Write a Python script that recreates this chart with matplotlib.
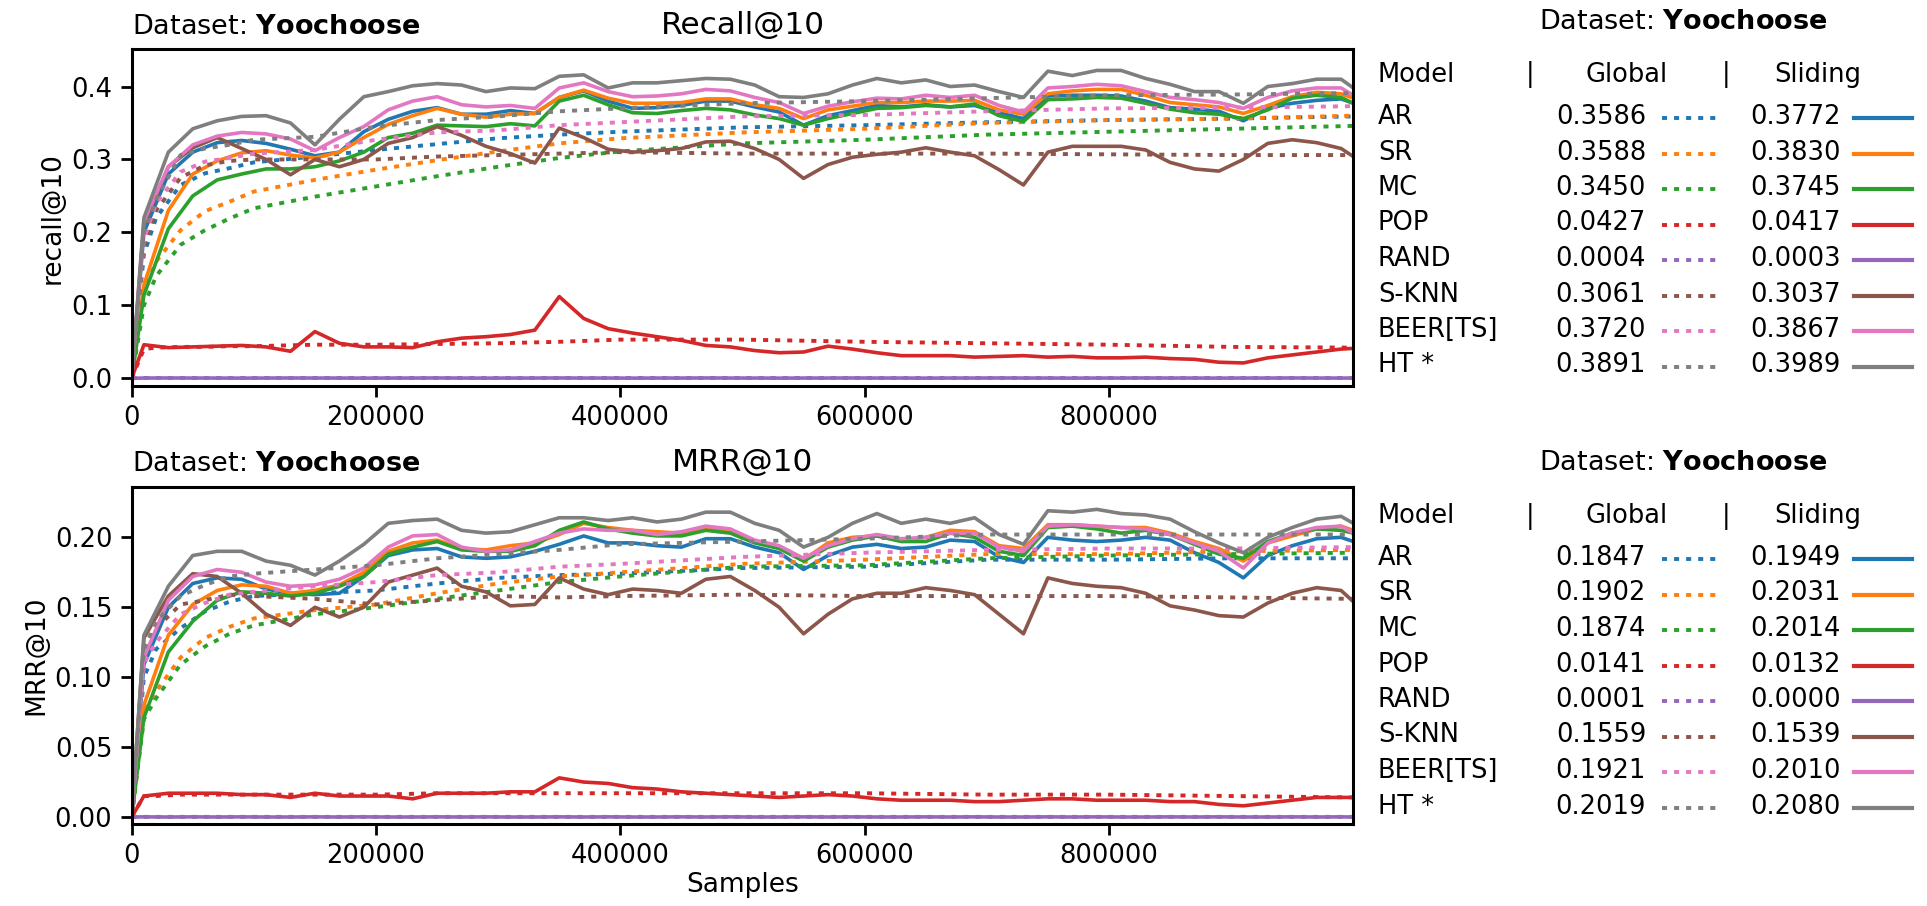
import matplotlib
matplotlib.use("Agg")
import matplotlib.pyplot as plt
from matplotlib.lines import Line2D

plt.rcParams['font.family'] = ['DejaVu Sans']
plt.rcParams['mathtext.fontset'] = 'dejavusans'

W, H = 1927, 906

MODELS = ["AR", "SR", "MC", "POP", "RAND", "S-KNN", "BEER[TS]", "HT *"]
COLORS = ["#1f77b4", "#ff7f0e", "#2ca02c", "#d62728", "#9467bd",
          "#8c564b", "#e377c2", "#7f7f7f"]

# sample positions of the sliding-window curves and of the global (cumulative) curves
X_SLIDE = [0] + list(range(10000, 1000000, 20000)) + [1000000]
X_GLOB = [0, 10000, 20000, 40000, 60000, 80000, 100000, 150000, 200000, 250000,
          300000, 350000, 400000, 500000, 600000, 700000, 800000, 900000, 1000000]

# ---------------- Recall@10, sliding window ----------------
rec_ar = [0.0, .200, .280, .310, .323, .326, .322, .314, .305, .310, .338,
          .355, .366, .371, .362, .362, .367, .363, .385, .394, .380,
          .370, .371, .374, .380, .380, .372, .365, .347, .360, .367,
          .374, .372, .375, .372, .374, .364, .356, .387, .388, .388,
          .387, .380, .371, .369, .366, .353, .370, .377, .381, .383,
          .377]
rec_sr = [0.0, .128, .230, .280, .298, .309, .312, .306, .302, .310, .330,
          .348, .360, .370, .362, .358, .362, .363, .385, .395, .384,
          .377, .377, .378, .383, .383, .375, .370, .356, .368, .373,
          .378, .378, .380, .380, .381, .368, .362, .390, .394, .396,
          .396, .388, .378, .375, .372, .363, .374, .386, .392, .390,
          .384]
rec_mc = [0.0, .114, .205, .250, .272, .280, .287, .287, .290, .298, .310,
          .330, .336, .347, .346, .345, .349, .346, .380, .388, .375,
          .364, .363, .367, .370, .368, .361, .356, .347, .356, .363,
          .370, .371, .374, .372, .376, .360, .352, .382, .383, .385,
          .384, .377, .369, .364, .362, .356, .368, .384, .388, .385,
          .377]
rec_pop = [0.0, .046, .042, .043, .044, .045, .043, .037, .064, .048, .043,
           .043, .042, .050, .055, .057, .060, .066, .112, .082, .068,
           .062, .057, .052, .045, .043, .038, .035, .036, .044, .040,
           .035, .031, .031, .031, .029, .030, .031, .029, .030, .028,
           .028, .029, .027, .026, .022, .021, .028, .032, .036, .040,
           .041]
rec_rand = [0.0, .0003, .0004, .0003, .0003, .0002, .0003, .0004, .0003, .0003, .0002,
            .0003, .0003, .0004, .0003, .0002, .0003, .0003, .0004, .0003, .0003,
            .0002, .0003, .0003, .0004, .0003, .0003, .0002, .0003, .0003, .0004,
            .0003, .0003, .0002, .0003, .0003, .0004, .0003, .0003, .0002, .0003,
            .0003, .0004, .0003, .0003, .0002, .0003, .0003, .0004, .0003, .0003,
            .0003]
rec_sknn = [0.0, .210, .290, .316, .330, .315, .300, .279, .300, .290, .300,
            .322, .330, .345, .333, .318, .308, .295, .343, .330, .314,
            .310, .312, .315, .324, .325, .315, .300, .274, .293, .303,
            .307, .310, .316, .310, .305, .286, .265, .310, .318, .318,
            .318, .313, .296, .287, .284, .300, .322, .327, .323, .315,
            .304]
rec_beer = [0.0, .215, .290, .320, .332, .337, .335, .328, .312, .330, .345,
            .368, .380, .386, .375, .372, .374, .370, .398, .405, .393,
            .386, .387, .390, .396, .394, .385, .378, .363, .373, .379,
            .384, .383, .388, .385, .388, .374, .365, .398, .400, .403,
            .401, .393, .385, .382, .378, .370, .385, .394, .398, .398,
            .388]
rec_ht = [0.0, .220, .310, .342, .353, .359, .360, .350, .320, .355, .386,
          .393, .401, .404, .402, .393, .398, .397, .414, .416, .398,
          .405, .405, .408, .411, .410, .402, .386, .385, .390, .402,
          .411, .405, .409, .400, .402, .393, .385, .421, .415, .422,
          .422, .411, .403, .393, .393, .377, .400, .404, .410, .410,
          .398]

# ---------------- Recall@10, global ----------------
rec_ar_g = [0, .170, .220, .265, .281, .288, .296, .304, .313, .321, .329, .334, .338, .344, .347, .351, .354, .356, .359]
rec_sr_g = [0, .120, .160, .203, .229, .242, .256, .272, .286, .299, .311, .322, .329, .337, .342, .350, .354, .356, .360]
rec_mc_g = [0, .100, .140, .183, .203, .219, .233, .249, .263, .277, .290, .302, .311, .322, .327, .334, .338, .342, .346]
rec_pop_g = [0, .040, .042, .043, .043, .044, .044, .046, .046, .047, .048, .050, .053, .053, .050, .048, .046, .043, .042]
rec_rand_g = [0, .0004, .0004, .0004, .0004, .0004, .0004, .0004, .0004, .0004, .0004, .0004, .0004, .0004, .0004, .0004, .0004, .0004, .0004]
rec_sknn_g = [0, .180, .230, .275, .292, .298, .300, .300, .300, .304, .306, .308, .310, .308, .308, .308, .307, .306, .306]
rec_beer_g = [0, .190, .240, .283, .297, .302, .308, .313, .327, .337, .340, .347, .351, .359, .361, .366, .370, .371, .373]
rec_ht_g = [0, .200, .245, .306, .315, .320, .327, .331, .345, .354, .359, .366, .370, .377, .380, .384, .388, .389, .391]

# ---------------- MRR@10, sliding window ----------------
mrr_ar = [0.0, .109, .150, .167, .171, .170, .163, .160, .159, .160, .172,
          .187, .191, .192, .186, .185, .186, .190, .195, .201, .196,
          .196, .194, .193, .199, .199, .193, .189, .177, .187, .193,
          .195, .192, .193, .198, .197, .186, .182, .200, .198, .197,
          .198, .200, .198, .189, .182, .171, .187, .194, .199, .200,
          .197]
mrr_sr = [0.0, .080, .130, .152, .162, .166, .165, .160, .162, .166, .175,
          .190, .196, .198, .192, .191, .194, .196, .202, .210, .207,
          .205, .204, .203, .206, .204, .197, .193, .184, .196, .200,
          .201, .198, .200, .205, .204, .194, .192, .209, .209, .208,
          .207, .207, .203, .197, .192, .183, .196, .201, .206, .208,
          .205]
mrr_mc = [0.0, .071, .118, .140, .155, .161, .160, .158, .160, .165, .172,
          .188, .193, .197, .191, .190, .190, .194, .205, .211, .206,
          .203, .201, .201, .205, .203, .196, .192, .183, .193, .198,
          .201, .197, .197, .203, .200, .190, .187, .207, .208, .206,
          .203, .205, .202, .195, .188, .185, .197, .203, .206, .205,
          .203]
mrr_pop = [0.0, .015, .017, .017, .017, .016, .016, .014, .017, .015, .015,
           .015, .013, .017, .017, .017, .018, .018, .028, .025, .024,
           .021, .020, .018, .017, .016, .015, .014, .015, .016, .015,
           .013, .012, .012, .012, .011, .011, .012, .013, .013, .012,
           .012, .012, .011, .011, .009, .008, .010, .012, .014, .014,
           .014]
mrr_rand = [0.0, .0001, .0000, .0001, .0000, .0001, .0000, .0000, .0001, .0000, .0001,
            .0000, .0000, .0001, .0000, .0001, .0000, .0000, .0001, .0000, .0001,
            .0000, .0000, .0001, .0000, .0001, .0000, .0000, .0001, .0000, .0001,
            .0000, .0000, .0001, .0000, .0001, .0000, .0000, .0001, .0000, .0001,
            .0000, .0000, .0001, .0000, .0001, .0000, .0000, .0001, .0000, .0001,
            .0000]
mrr_sknn = [0.0, .128, .158, .174, .172, .160, .145, .137, .150, .143, .150,
            .168, .173, .178, .165, .161, .151, .152, .171, .163, .159,
            .163, .162, .160, .170, .172, .162, .150, .131, .145, .156,
            .160, .160, .164, .162, .159, .145, .131, .171, .167, .165,
            .164, .160, .151, .148, .144, .143, .153, .160, .164, .162,
            .154]
mrr_beer = [0.0, .114, .155, .172, .177, .175, .168, .165, .166, .170, .178,
            .193, .201, .202, .193, .190, .191, .197, .203, .206, .205,
            .205, .202, .204, .208, .206, .198, .194, .185, .194, .199,
            .202, .199, .200, .203, .203, .193, .190, .208, .209, .208,
            .207, .206, .202, .196, .190, .178, .196, .203, .207, .208,
            .203]
mrr_ht = [0.0, .130, .165, .187, .190, .190, .183, .180, .173, .183, .195,
          .210, .212, .213, .205, .203, .204, .209, .214, .214, .212,
          .214, .211, .213, .218, .218, .210, .205, .193, .200, .210,
          .217, .210, .213, .210, .214, .202, .195, .219, .218, .220,
          .217, .216, .213, .204, .196, .189, .200, .207, .213, .215,
          .210]

# ---------------- MRR@10, global ----------------
mrr_ar_g = [0, .100, .120, .135, .147, .154, .158, .160, .162, .167, .171, .173, .174, .178, .179, .184, .184, .185, .185]
mrr_sr_g = [0, .075, .090, .114, .128, .136, .142, .148, .152, .160, .167, .172, .175, .181, .184, .188, .188, .190, .191]
mrr_mc_g = [0, .070, .085, .109, .122, .131, .137, .145, .150, .156, .162, .168, .172, .179, .180, .185, .187, .188, .189]
mrr_pop_g = [0, .015, .015, .016, .016, .016, .016, .016, .016, .017, .017, .017, .017, .017, .017, .016, .016, .015, .014]
mrr_rand_g = [0, .0001, .0001, .0001, .0001, .0001, .0001, .0001, .0001, .0001, .0001, .0001, .0001, .0001, .0001, .0001, .0001, .0001, .0001]
mrr_sknn_g = [0, .120, .135, .152, .155, .159, .158, .156, .152, .155, .158, .157, .158, .159, .158, .158, .158, .157, .156]
mrr_beer_g = [0, .110, .125, .145, .153, .159, .161, .165, .168, .173, .175, .179, .181, .186, .189, .191, .192, .192, .193]
mrr_ht_g = [0, .120, .140, .158, .166, .172, .174, .177, .180, .185, .188, .191, .195, .197, .199, .202, .202, .202, .202]

# table values
rec_glob_txt = ["0.3586", "0.3588", "0.3450", "0.0427", "0.0004", "0.3061", "0.3720", "0.3891"]
rec_slide_txt = ["0.3772", "0.3830", "0.3745", "0.0417", "0.0003", "0.3037", "0.3867", "0.3989"]
mrr_glob_txt = ["0.1847", "0.1902", "0.1874", "0.0141", "0.0001", "0.1559", "0.1921", "0.2019"]
mrr_slide_txt = ["0.1949", "0.2031", "0.2014", "0.0132", "0.0000", "0.1539", "0.2010", "0.2080"]

rec_slide = [rec_ar, rec_sr, rec_mc, rec_pop, rec_rand, rec_sknn, rec_beer, rec_ht]
rec_glob = [rec_ar_g, rec_sr_g, rec_mc_g, rec_pop_g, rec_rand_g, rec_sknn_g, rec_beer_g, rec_ht_g]
mrr_slide = [mrr_ar, mrr_sr, mrr_mc, mrr_pop, mrr_rand, mrr_sknn, mrr_beer, mrr_ht]
mrr_glob = [mrr_ar_g, mrr_sr_g, mrr_mc_g, mrr_pop_g, mrr_rand_g, mrr_sknn_g, mrr_beer_g, mrr_ht_g]

DOT = (0, (1.3, 1.8))
FS = 18.5
DS_TITLE = r'Dataset: $\mathbf{Yoochoose}$'


def fx(px):
    return px / W


def fy(py):
    return 1 - py / H


def draw_panel(ax, slide, glob, ylabel, title, ylim, yticks, yfmt):
    for i in range(len(MODELS)):
        ax.plot(X_GLOB, glob[i], color=COLORS[i], lw=2.8, linestyle=DOT)
        ax.plot(X_SLIDE, slide[i], color=COLORS[i], lw=2.6)
    ax.set_xlim(0, 1000000)
    ax.set_ylim(*ylim)
    ax.set_xticks([0, 200000, 400000, 600000, 800000])
    ax.set_yticks(yticks)
    ax.set_yticklabels([yfmt % v for v in yticks])
    ax.tick_params(labelsize=FS, width=2, length=8, pad=6)
    for s in ax.spines.values():
        s.set_linewidth(2.2)
    ax.set_ylabel(ylabel, fontsize=19)
    ax.set_title(title, fontsize=22.5, pad=9)
    ax.set_title(DS_TITLE, loc='left', fontsize=19.5, pad=11)


def draw_table(fig, top, glob_txt, slide_txt):
    # top = pixel y of the "Dataset" line
    fig.text(fx(1683), fy(top), DS_TITLE, fontsize=19.5, ha='center', va='center')
    hy = top + 53
    fig.text(fx(1378), fy(hy), "Model", fontsize=FS, ha='left', va='center')
    fig.text(fx(1530), fy(hy), "|", fontsize=FS, ha='center', va='center')
    fig.text(fx(1627), fy(hy), "Global", fontsize=FS, ha='center', va='center')
    fig.text(fx(1726), fy(hy), "|", fontsize=FS, ha='center', va='center')
    fig.text(fx(1818), fy(hy), "Sliding", fontsize=FS, ha='center', va='center')
    for i, name in enumerate(MODELS):
        ry = top + 95 + 35.5 * i
        fig.text(fx(1378), fy(ry), name, fontsize=FS, ha='left', va='center')
        fig.text(fx(1646), fy(ry), glob_txt[i], fontsize=FS, ha='right', va='center')
        fig.text(fx(1841), fy(ry), slide_txt[i], fontsize=FS, ha='right', va='center')
        fig.add_artist(Line2D([fx(1662), fx(1717)], [fy(ry + 1), fy(ry + 1)],
                              color=COLORS[i], lw=2.8, linestyle=DOT,
                              transform=fig.transFigure))
        fig.add_artist(Line2D([fx(1854), fx(1912)], [fy(ry + 1), fy(ry + 1)],
                              color=COLORS[i], lw=3,
                              transform=fig.transFigure))


fig = plt.figure(figsize=(W / 100, H / 100), dpi=100)
ax1 = fig.add_axes([fx(131.7), fy(386), (1353.3 - 131.7) / W, (386 - 49.3) / H])
ax2 = fig.add_axes([fx(131.7), fy(824), (1353.3 - 131.7) / W, (824 - 486.7) / H])

draw_panel(ax1, rec_slide, rec_glob, "recall@10", "Recall@10",
           (-0.0106, 0.451), [0.0, 0.1, 0.2, 0.3, 0.4], "%.1f")
draw_panel(ax2, mrr_slide, mrr_glob, "MRR@10", "MRR@10",
           (-0.005, 0.2362), [0.0, 0.05, 0.10, 0.15, 0.20], "%.2f")
ax2.set_xlabel("Samples", fontsize=19, labelpad=2)

draw_table(fig, 22, rec_glob_txt, rec_slide_txt)
draw_table(fig, 463, mrr_glob_txt, mrr_slide_txt)

fig.savefig("out.png", dpi=100)
